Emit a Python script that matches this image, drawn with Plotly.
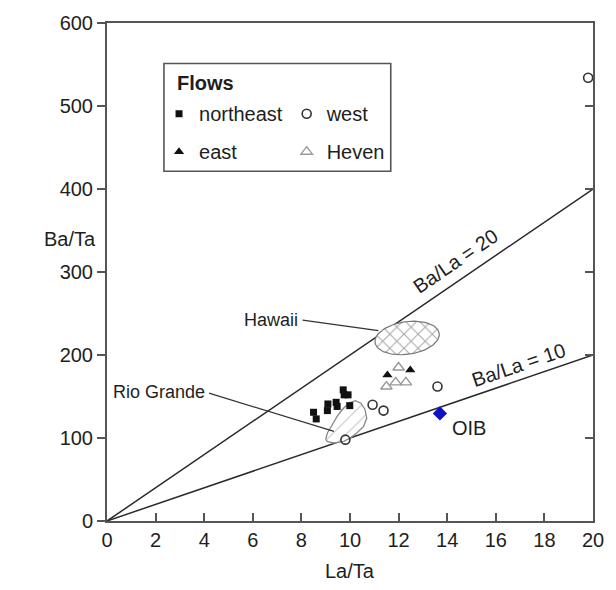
import numpy as np
import plotly.graph_objects as go

# ---------------- data ----------------
ne_x = [8.50, 8.61, 9.09, 9.07, 9.43, 9.47, 9.72, 9.76, 9.92, 9.99]
ne_y = [131, 123, 141, 133, 143, 138, 158, 152, 152, 139]

west_x = [10.93, 11.38, 13.60, 9.81, 19.80]
west_y = [140, 133, 162, 98, 534]

east_x = [11.54, 12.48]
east_y = [176, 182]

heven_x = [12.00, 11.50, 11.88, 12.30]
heven_y = [185, 162, 167, 167]

oib_x = [13.7]
oib_y = [129.6]

ratio_vals = [20, 10]
ratio_labels = ["Ba/La = 20", "Ba/La = 10"]
ratio_label_x = [14.35, 16.93]
ratio_label_y = [313, 188]

# Hawaii field (ellipse centre in data units)
hawaii_center = (12.35, 220.5)

# Rio Grande field outline
rio_x = [9.00, 9.07, 9.27, 9.47, 9.67, 9.95, 10.22, 10.45, 10.62, 10.69,
         10.56, 10.28, 10.01, 9.74, 9.34, 9.07, 9.00]
rio_y = [98.5, 106, 116, 126, 134, 142, 145, 142, 134, 124,
         114, 106, 100, 96, 94, 95.5, 98.5]

x_ticks = list(range(0, 21, 2))
y_ticks = list(range(0, 601, 100))

# ---------------- layout geometry ----------------
W, H = 616, 590
ML, MR, MT, MB = 107, 14, 17, 69
XR = [0, 20]
YR = [0, 600]
pw, ph = W - ML - MR, H - MT - MB
sx = pw / (XR[1] - XR[0])      # px per x unit
sy = ph / (YR[1] - YR[0])      # px per y unit


def px2paper_x(px):
    return (px - ML) / pw


def px2paper_y(py):
    return (H - MB - py) / ph


FONT = "Liberation Sans, Arial, sans-serif"
FS = 20
INK = "#1e1e1e"
AX = "#555555"

fig = go.Figure()

# reference ratio lines
for r in ratio_vals:
    fig.add_trace(go.Scatter(x=[0, XR[1]], y=[0, r * XR[1]], mode="lines",
                             line=dict(color="#2a2a2a", width=1.5),
                             showlegend=False, hoverinfo="skip"))

# Hawaii ellipse (crosshatched)
t = np.linspace(0, 2 * np.pi, 90)
a_px, b_px, phi = 33.0, 16.5, np.deg2rad(8)
ex = hawaii_center[0] + (a_px * np.cos(t) * np.cos(phi) - b_px * np.sin(t) * np.sin(phi)) / sx
ey = hawaii_center[1] + (a_px * np.cos(t) * np.sin(phi) + b_px * np.sin(t) * np.cos(phi)) / sy
fig.add_trace(go.Scatter(x=ex, y=ey, mode="lines", fill="toself",
                         line=dict(color="#777777", width=1.2),
                         fillcolor="rgba(0,0,0,0)",
                         fillpattern=dict(shape="x", size=10, solidity=0.18,
                                          fgcolor="#444444", bgcolor="white"),
                         showlegend=False, hoverinfo="skip"))

# Rio Grande field (hatched)
fig.add_trace(go.Scatter(x=rio_x, y=rio_y, mode="lines", fill="toself",
                         line=dict(color="#888888", width=1.3),
                         fillcolor="rgba(0,0,0,0)",
                         fillpattern=dict(shape="/", size=10, solidity=0.1,
                                          fgcolor="#888888", bgcolor="white"),
                         showlegend=False, hoverinfo="skip"))

# leader lines
fig.add_trace(go.Scatter(x=[8.05, 11.17], y=[242, 229.4], mode="lines",
                         line=dict(color="#333", width=1.2),
                         showlegend=False, hoverinfo="skip"))
fig.add_trace(go.Scatter(x=[4.2, 9.34], y=[154, 108], mode="lines",
                         line=dict(color="#333", width=1.2),
                         showlegend=False, hoverinfo="skip"))

# data series
fig.add_trace(go.Scatter(x=ne_x, y=ne_y, mode="markers", name="northeast",
                         marker=dict(symbol="square", size=7, color="#111"),
                         legend="legend", legendgroup="ne"))
fig.add_trace(go.Scatter(x=east_x, y=east_y, mode="markers", name="east",
                         marker=dict(symbol="triangle-up", size=9, color="#111"),
                         legend="legend", legendgroup="ea"))
fig.add_trace(go.Scatter(x=west_x, y=west_y, mode="markers", name="west",
                         marker=dict(symbol="circle-open", size=9, color="#333",
                                     line=dict(width=1.6)),
                         legend="legend2", legendgroup="we"))
fig.add_trace(go.Scatter(x=heven_x, y=heven_y, mode="markers", name="Heven",
                         marker=dict(symbol="triangle-up-open", size=10, color="#999",
                                     line=dict(width=1.4)),
                         legend="legend2", legendgroup="he"))
fig.add_trace(go.Scatter(x=oib_x, y=oib_y, mode="markers", name="OIB",
                         marker=dict(symbol="diamond", size=11, color="#1010c8"),
                         showlegend=False))

# dummy trace so the right-side (inside) ticks are drawn
fig.add_trace(go.Scatter(x=[None], y=[None], yaxis="y2", showlegend=False,
                         hoverinfo="skip"))

annotations = []
for lab, lx, ly, r in zip(ratio_labels, ratio_label_x, ratio_label_y, ratio_vals):
    ang = np.degrees(np.arctan(r * sy / sx))
    annotations.append(dict(x=lx, y=ly, text=lab, showarrow=False, textangle=-ang,
                            font=dict(size=FS, color=INK, family=FONT)))
annotations += [
    dict(x=7.95, y=242, text="Hawaii", showarrow=False, xanchor="right",
         font=dict(size=18, color=INK, family=FONT)),
    dict(x=4.1, y=155, text="Rio Grande", showarrow=False, xanchor="right",
         font=dict(size=18, color=INK, family=FONT)),
    dict(x=14.9, y=112, text="OIB", showarrow=False,
         font=dict(size=FS, color=INK, family=FONT)),
    dict(x=px2paper_x(41), xref="paper", y=340, yref="y", text="Ba/Ta", showarrow=False,
         font=dict(size=FS, color=INK, family=FONT)),
    dict(x=0.5, xref="paper", y=px2paper_y(572), yref="paper", text="La/Ta",
         showarrow=False, yanchor="middle", font=dict(size=FS, color=INK, family=FONT)),
    # legend title
    dict(x=px2paper_x(176), xref="paper", y=px2paper_y(78), yref="paper",
         text="<b>Flows</b>", showarrow=False, xanchor="left", yanchor="middle",
         font=dict(size=FS, color=INK, family=FONT)),
]

leg_common = dict(yanchor="middle", xanchor="left", bgcolor="rgba(0,0,0,0)",
                  borderwidth=0, tracegroupgap=9, traceorder="grouped",
                  font=dict(size=FS, color=INK, family=FONT))

fig.update_layout(
    width=W, height=H,
    margin=dict(l=ML, r=MR, t=MT, b=MB, pad=0),
    paper_bgcolor="white", plot_bgcolor="white",
    font=dict(family=FONT, size=FS, color=INK),
    xaxis=dict(range=XR, tickvals=x_ticks, ticks="inside", ticklen=8, tickwidth=1.5,
               tickcolor=AX, showline=True, linecolor=AX, linewidth=2, mirror=True,
               showgrid=False, zeroline=False, tickfont=dict(size=FS, color=INK)),
    yaxis=dict(range=YR, tickvals=y_ticks, ticks="outside", ticklen=8, tickwidth=1.5,
               tickcolor=AX, showline=True, linecolor=AX, linewidth=2, mirror=True,
               showgrid=False, zeroline=False, tickfont=dict(size=FS, color=INK)),
    yaxis2=dict(range=YR, overlaying="y", side="right", tickvals=y_ticks[1:-1],
                ticks="inside", ticklen=8, tickwidth=1.5, tickcolor=AX,
                showticklabels=False, showline=False, showgrid=False, zeroline=False),
    legend=dict(x=px2paper_x(160), y=px2paper_y(128), **leg_common),
    legend2=dict(x=px2paper_x(290), y=px2paper_y(128), **leg_common),
    shapes=[dict(type="rect", xref="paper", yref="paper",
                 x0=px2paper_x(165), x1=px2paper_x(396),
                 y0=px2paper_y(167), y1=px2paper_y(58),
                 line=dict(color="#555", width=1.6), fillcolor="rgba(0,0,0,0)",
                 layer="above")],
    annotations=annotations,
    showlegend=True,
)

fig.write_html("out.html")
